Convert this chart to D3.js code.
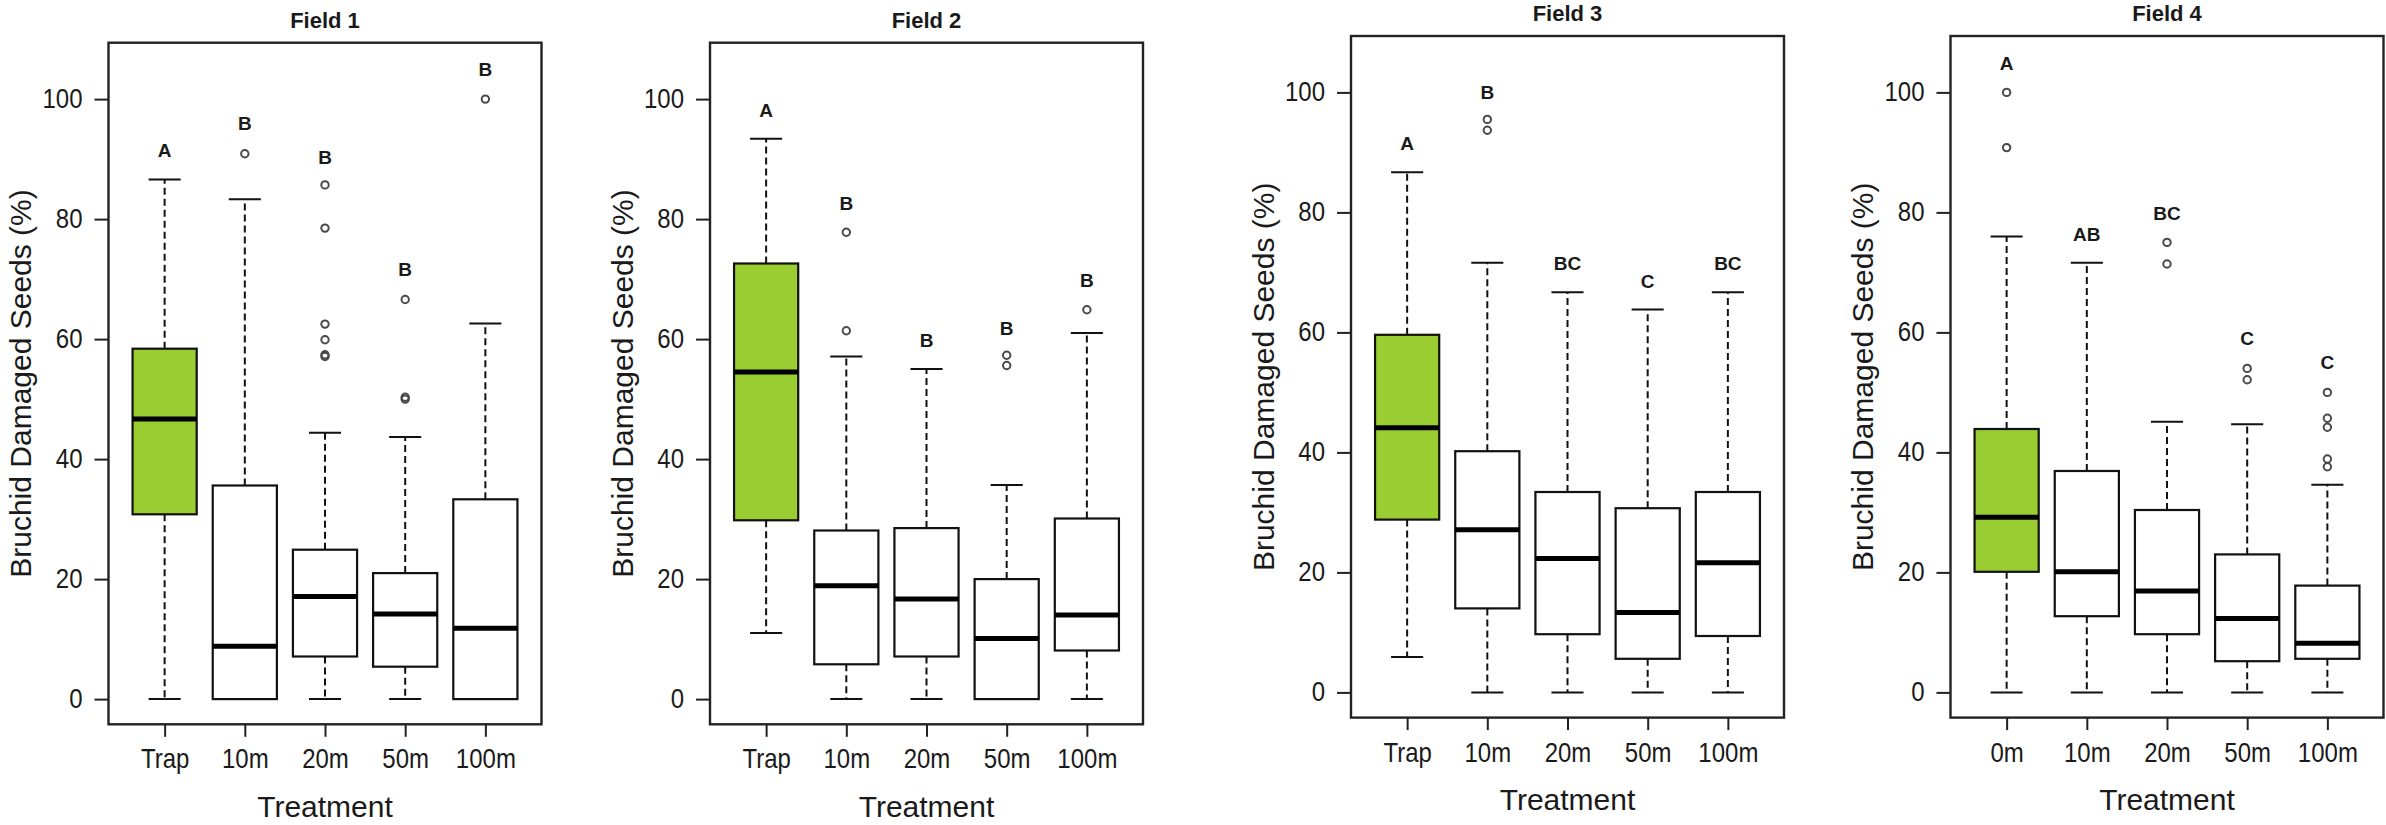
<!DOCTYPE html>
<html>
<head>
<meta charset="utf-8">
<script src="https://cdn.jsdelivr.net/npm/d3@7"></script>
<style>
  body { margin: 0; background: #fff; }
  svg { display: block; }
  text { font-family: "Liberation Sans", Arial, Helvetica, sans-serif; fill: #1a1a1a; }
</style>
</head>
<body>
<svg id="chart" width="2386" height="825"></svg>
<script>
const fields = ['Field 1', 'Field 2', 'Field 3', 'Field 4'];
const treatments = ['Trap', '10m', '20m', '50m', '100m'];
const treatmentsField4 = ['0m', '10m', '20m', '50m', '100m'];
const yTicks = [0, 20, 40, 60, 80, 100];

// [low whisker, Q1, median, Q3, high whisker] per treatment
const field1Box = [
  [0, 30.8, 46.7, 58.4, 86.6],
  [0, 0, 8.8, 35.6, 83.3],
  [0, 7.1, 17.1, 24.9, 44.4],
  [0, 5.4, 14.2, 21.0, 43.7],
  [0, 0, 11.8, 33.3, 62.6]
];
const field1Out = [[], [90.9], [85.7, 78.5, 62.5, 59.9, 57.1, 57.4], [66.6, 50.0, 50.3], [100]];
const field1Letters = ['A', 'B', 'B', 'B', 'B'];
const field1LetterY = [91.5, 96, 90.4, 71.6, 105];

const field2Box = [
  [11.0, 29.8, 54.5, 72.6, 93.4],
  [0, 5.8, 18.9, 28.1, 57.1],
  [0, 7.1, 16.7, 28.5, 55.0],
  [0, 0, 10.1, 20.0, 35.7],
  [0, 8.1, 14.0, 30.1, 61.0]
];
const field2Out = [[], [77.8, 61.4], [], [57.3, 55.6], [64.9]];
const field2Letters = ['A', 'B', 'B', 'B', 'B'];
const field2LetterY = [98.1, 82.6, 59.9, 61.9, 69.9];

const field3Box = [
  [5.9, 28.8, 44.1, 59.6, 86.7],
  [0, 14.0, 27.1, 40.2, 71.6],
  [0, 9.7, 22.3, 33.4, 66.7],
  [0, 5.6, 13.3, 30.7, 63.8],
  [0, 9.4, 21.6, 33.4, 66.7]
];
const field3Out = [[], [95.5, 93.7], [], [], []];
const field3Letters = ['A', 'B', 'BC', 'C', 'BC'];
const field3LetterY = [91.5, 100, 71.6, 68.6, 71.6];

const field4Box = [
  [0, 20.1, 29.2, 43.9, 76.0],
  [0, 12.7, 20.1, 36.9, 71.6],
  [0, 9.7, 16.9, 30.4, 45.1],
  [0, 5.2, 12.3, 23.0, 44.7],
  [0, 5.6, 8.2, 17.8, 34.6]
];
const field4Out = [[100, 90.8], [], [75.0, 71.4], [54.0, 52.1], [50.0, 45.7, 44.2, 38.9, 37.6]];
const field4Letters = ['A', 'AB', 'BC', 'C', 'C'];
const field4LetterY = [104.8, 76.4, 79.9, 59.0, 55.0];

const panelData = [
  { name: fields[0], cats: treatments, box: field1Box, out: field1Out, letters: field1Letters, letterY: field1LetterY },
  { name: fields[1], cats: treatments, box: field2Box, out: field2Out, letters: field2Letters, letterY: field2LetterY },
  { name: fields[2], cats: treatments, box: field3Box, out: field3Out, letters: field3Letters, letterY: field3LetterY },
  { name: fields[3], cats: treatmentsField4, box: field4Box, out: field4Out, letters: field4Letters, letterY: field4LetterY }
];

// layout of the four pasted R plots
const panelLeft = [108.5, 710, 1351, 1950.5];
const panelTop = [42.7, 42.7, 36, 36];
const pw = 433;
const ph = 681.6;
const trapFill = '#9acd32';
const stretch = 1.15; // tick labels in the source are a bit tall

const svg = d3.select('#chart');

panelData.forEach((p, pi) => {
  const left = panelLeft[pi];
  const top = panelTop[pi];
  const x = d3.scaleLinear().domain([0.3, 5.7]).range([left, left + pw]);
  const y = d3.scaleLinear().domain([-4.2, 109.4]).range([top + ph, top]);
  const g = svg.append('g').attr('class', 'panel');
  const bw = x(1.4) - x(1); // box half width (boxwex 0.8)
  const sw = x(1.2) - x(1); // staple half width

  const boxes = g.selectAll('g.box')
    .data(p.box)
    .enter()
    .append('g')
    .attr('class', 'box');

  // whiskers
  boxes.append('line')
    .attr('x1', (d, i) => x(i + 1))
    .attr('x2', (d, i) => x(i + 1))
    .attr('y1', d => y(d[3]))
    .attr('y2', d => y(d[4]))
    .attr('stroke', '#111')
    .attr('stroke-width', 2)
    .attr('stroke-dasharray', '7,4');
  boxes.append('line')
    .attr('x1', (d, i) => x(i + 1))
    .attr('x2', (d, i) => x(i + 1))
    .attr('y1', d => y(d[1]))
    .attr('y2', d => y(d[0]))
    .attr('stroke', '#111')
    .attr('stroke-width', 2)
    .attr('stroke-dasharray', '7,4');
  // staples
  [0, 4].forEach((k) => {
    boxes.append('line')
      .attr('x1', (d, i) => x(i + 1) - sw)
      .attr('x2', (d, i) => x(i + 1) + sw)
      .attr('y1', d => y(d[k]))
      .attr('y2', d => y(d[k]))
      .attr('stroke', '#111')
      .attr('stroke-width', 2);
  });
  // boxes
  boxes.append('rect')
    .attr('x', (d, i) => x(i + 1) - bw)
    .attr('width', bw * 2)
    .attr('y', d => y(d[3]))
    .attr('height', d => y(d[1]) - y(d[3]))
    .attr('fill', (d, i) => (i === 0 ? trapFill : '#fff'))
    .attr('stroke', '#111')
    .attr('stroke-width', 2.2);
  // medians
  boxes.append('line')
    .attr('x1', (d, i) => x(i + 1) - bw)
    .attr('x2', (d, i) => x(i + 1) + bw)
    .attr('y1', d => y(d[2]))
    .attr('y2', d => y(d[2]))
    .attr('stroke', '#000')
    .attr('stroke-width', 5);

  // outliers
  const pts = [];
  p.out.forEach((arr, i) => arr.forEach(v => pts.push({ i, v })));
  g.selectAll('circle')
    .data(pts)
    .enter()
    .append('circle')
    .attr('cx', d => x(d.i + 1))
    .attr('cy', d => y(d.v))
    .attr('r', 3.7)
    .attr('fill', 'none')
    .attr('stroke', '#4a4a4a')
    .attr('stroke-width', 2);

  // significance letters
  g.selectAll('text.letter')
    .data(p.letters)
    .enter()
    .append('text')
    .attr('class', 'letter')
    .attr('x', (d, i) => x(i + 1))
    .attr('y', (d, i) => y(p.letterY[i]))
    .attr('dy', '0.36em')
    .attr('text-anchor', 'middle')
    .attr('font-weight', 'bold')
    .attr('font-size', 19)
    .text(d => d);

  // frame
  g.append('rect')
    .attr('x', left)
    .attr('y', top)
    .attr('width', pw)
    .attr('height', ph)
    .attr('fill', 'none')
    .attr('stroke', '#222')
    .attr('stroke-width', 2.4);

  // axes
  const yAxis = g.append('g')
    .attr('transform', `translate(${left},0)`)
    .call(d3.axisLeft(y).tickValues(yTicks).tickSize(14).tickPadding(12));
  yAxis.select('.domain').remove();
  yAxis.selectAll('line').attr('stroke', '#222').attr('stroke-width', 2);
  yAxis.selectAll('text')
    .attr('font-size', 24)
    .attr('font-family', null)
    .attr('fill', '#1a1a2a')
    .attr('dy', '0.3em')
    .attr('transform', `scale(1,${stretch})`);

  const xAxis = g.append('g')
    .attr('transform', `translate(0,${top + ph})`)
    .call(d3.axisBottom(x).tickValues([1, 2, 3, 4, 5])
      .tickFormat(d => p.cats[d - 1]).tickSize(12.5).tickPadding(12));
  xAxis.select('.domain').remove();
  xAxis.selectAll('line').attr('stroke', '#222').attr('stroke-width', 2);
  xAxis.selectAll('text')
    .attr('font-size', 24)
    .attr('font-family', null)
    .attr('fill', '#1a1a2a')
    .attr('y', 24.5 / stretch)
    .attr('transform', `scale(1,${stretch})`);

  // titles
  g.append('text')
    .attr('x', left + pw / 2)
    .attr('y', top - 14.7)
    .attr('text-anchor', 'middle')
    .attr('font-weight', 'bold')
    .attr('font-size', 22)
    .text(p.name);

  g.append('text')
    .attr('transform', `translate(${left - 88},${top + ph / 2}) rotate(-90)`)
    .attr('dy', '0.35em')
    .attr('text-anchor', 'middle')
    .attr('font-size', 30)
    .text('Bruchid Damaged Seeds (%)');

  g.append('text')
    .attr('x', left + pw / 2)
    .attr('y', top + ph + 92.7)
    .attr('text-anchor', 'middle')
    .attr('font-size', 30)
    .text('Treatment');
});
</script>
</body>
</html>
